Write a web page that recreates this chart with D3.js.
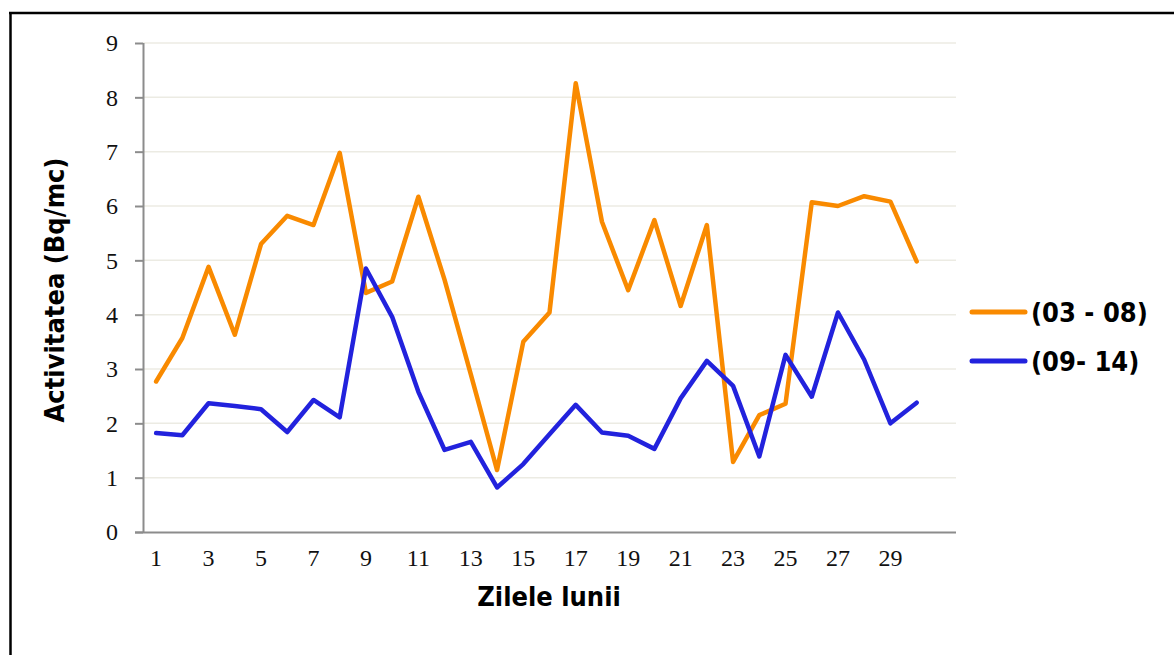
<!DOCTYPE html>
<html>
<head>
<meta charset="utf-8">
<script src="https://cdn.jsdelivr.net/npm/d3@7"></script>
<style>
  html, body { margin: 0; padding: 0; background: #fff; }
  svg { display: block; }
</style>
</head>
<body>
<svg id="chart" width="1174" height="655"></svg>
<script>
const days = d3.range(1, 32);           // categories 1..31
const tickDays = [1,3,5,7,9,11,13,15,17,19,21,23,25,27,29];
const yTicks = [0,1,2,3,4,5,6,7,8,9];
const seriesNames = ["(03 - 08)", "(09- 14)"];
const series0308 = [2.77,3.57,4.88,3.63,5.30,5.82,5.65,6.98,4.40,4.61,6.17,4.64,2.90,1.14,3.50,4.04,8.26,5.71,4.45,5.74,4.16,5.65,1.29,2.15,2.36,6.07,6.00,6.18,6.08,4.98];
const series0914 = [1.82,1.78,2.37,2.32,2.26,1.84,2.43,2.11,4.85,3.96,2.58,1.51,1.66,0.82,1.25,1.80,2.34,1.83,1.77,1.53,2.46,3.15,2.69,1.39,3.26,2.49,4.04,3.17,2.00,2.38];
const colors = ["#f98a00", "#2222dd"];

const svg = d3.select("#chart");
const pLeft = 143, pRight = 956, pTop = 43, pBottom = 532;

// frame
svg.append("line").attr("x1", 9).attr("x2", 1174).attr("y1", 13).attr("y2", 13)
  .attr("stroke", "#000").attr("stroke-width", 2.5);
svg.append("line").attr("x1", 10.5).attr("x2", 10.5).attr("y1", 12).attr("y2", 655)
  .attr("stroke", "#000").attr("stroke-width", 2.5);

const x = d3.scaleBand().domain(days).range([pLeft, pRight]);
const y = d3.scaleLinear().domain([0, 9]).range([pBottom, pTop]);
const cx = d => x(d) + x.bandwidth() / 2;

// gridlines
svg.append("g").selectAll("line").data(yTicks.filter(t => t > 0)).join("line")
  .attr("x1", pLeft).attr("x2", pRight)
  .attr("y1", d => y(d)).attr("y2", d => y(d))
  .attr("stroke", "#ecebe3").attr("stroke-width", 1.5);

const tickFont = "'Liberation Serif', 'Times New Roman', serif";

// y axis
const yAxis = svg.append("g").attr("transform", `translate(${pLeft},0)`)
  .call(d3.axisLeft(y).tickValues(yTicks).tickSize(8).tickPadding(17).tickFormat(d3.format("d")));
yAxis.select(".domain").attr("stroke", "#8c8c8c").attr("stroke-width", 2)
  .attr("d", `M0.5,${pTop}V${pBottom}`);
yAxis.selectAll(".tick line").attr("stroke", "#8c8c8c").attr("stroke-width", 2);
yAxis.selectAll("text").attr("font-family", tickFont)
  .attr("font-size", 24).attr("fill", "#111");

// x axis
const xAxis = svg.append("g").attr("transform", `translate(0,${pBottom})`)
  .call(d3.axisBottom(x).tickValues(tickDays).tickSize(0).tickPadding(17));
xAxis.select(".domain").attr("stroke", "#8c8c8c").attr("stroke-width", 2)
  .attr("d", `M${pLeft - 8},0.5H${pRight}`);
xAxis.selectAll("text").attr("font-family", tickFont)
  .attr("font-size", 24).attr("fill", "#111");

// lines
const line = d3.line().x((d, i) => cx(days[i])).y(d => y(d));
[series0308, series0914].forEach((s, k) => {
  svg.append("path").datum(s).attr("d", line)
    .attr("fill", "none").attr("stroke", colors[k]).attr("stroke-width", 4.5)
    .attr("stroke-linejoin", "round").attr("stroke-linecap", "round");
});

const titleFont = "'DejaVu Sans Condensed', 'DejaVu Sans', sans-serif";

// axis titles
svg.append("text").attr("transform", `translate(64,290) rotate(-90)`)
  .attr("text-anchor", "middle").attr("font-family", titleFont).attr("font-stretch", "condensed")
  .attr("font-weight", "bold").attr("font-size", 27).attr("fill", "#000")
  .text("Activitatea (Bq/mc)");
svg.append("text").attr("x", 549).attr("y", 606)
  .attr("text-anchor", "middle").attr("font-family", titleFont).attr("font-stretch", "condensed")
  .attr("font-weight", "bold").attr("font-size", 27).attr("fill", "#000")
  .text("Zilele lunii");

// legend
const legY = [312, 361];
seriesNames.forEach((name, k) => {
  svg.append("line").attr("x1", 972).attr("x2", 1025).attr("y1", legY[k]).attr("y2", legY[k])
    .attr("stroke", colors[k]).attr("stroke-width", 5).attr("stroke-linecap", "round");
  svg.append("text").attr("x", 1031).attr("y", legY[k] + 10)
    .attr("font-family", titleFont).attr("font-stretch", "condensed")
    .attr("font-weight", "bold").attr("font-size", 27).attr("fill", "#000")
    .text(name);
});
</script>
</body>
</html>
